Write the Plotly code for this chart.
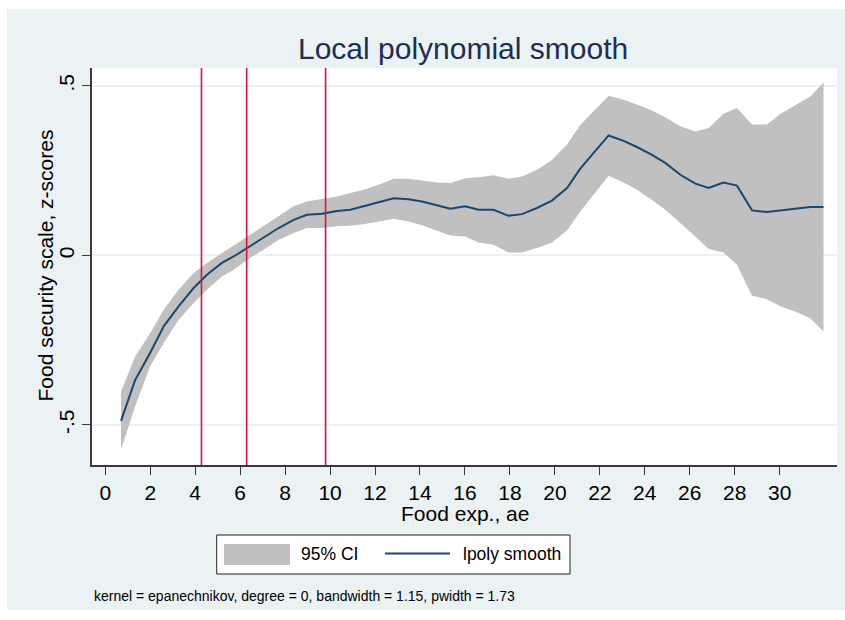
import plotly.graph_objects as go

# ---- data ----
food_exp = [0.70, 1.33, 2.00, 2.60, 3.26, 3.93, 4.52, 5.19, 5.71, 6.30,
            7.04, 7.71, 8.38, 8.97, 9.64, 10.31, 10.90, 11.49, 12.16, 12.83,
            13.49, 14.09, 14.75, 15.35, 16.01, 16.61, 17.27, 17.94, 18.54, 19.20,
            19.87, 20.54, 21.13, 22.39, 23.06, 23.65, 24.32, 24.91, 25.58, 26.25,
            26.84, 27.50, 28.10, 28.77, 29.43, 30.03, 30.69, 31.36, 31.95]

smooth = [-0.488, -0.367, -0.287, -0.209, -0.150, -0.096, -0.057, -0.022, -0.003, 0.022,
          0.051, 0.081, 0.105, 0.120, 0.123, 0.131, 0.135, 0.145, 0.156, 0.169,
          0.166, 0.159, 0.148, 0.138, 0.145, 0.135, 0.135, 0.117, 0.122, 0.140,
          0.162, 0.199, 0.256, 0.354, 0.338, 0.320, 0.297, 0.273, 0.238, 0.212,
          0.199, 0.215, 0.206, 0.133, 0.128, 0.133, 0.138, 0.143, 0.143]

ci_upper = [-0.401, -0.298, -0.229, -0.160, -0.101, -0.052, -0.022, 0.007, 0.030, 0.056,
            0.086, 0.115, 0.145, 0.159, 0.166, 0.174, 0.184, 0.194, 0.209, 0.226,
            0.226, 0.221, 0.215, 0.214, 0.228, 0.231, 0.237, 0.226, 0.233, 0.253,
            0.282, 0.327, 0.385, 0.471, 0.459, 0.445, 0.428, 0.408, 0.381, 0.366,
            0.376, 0.418, 0.435, 0.386, 0.386, 0.417, 0.442, 0.469, 0.510]

ci_lower = [-0.573, -0.445, -0.327, -0.258, -0.190, -0.140, -0.101, -0.062, -0.042, -0.013,
            0.017, 0.046, 0.066, 0.081, 0.081, 0.086, 0.088, 0.092, 0.100, 0.108,
            0.100, 0.089, 0.073, 0.059, 0.056, 0.038, 0.032, 0.009, 0.009, 0.022,
            0.038, 0.074, 0.130, 0.235, 0.215, 0.194, 0.164, 0.135, 0.096, 0.056,
            0.019, 0.009, -0.027, -0.119, -0.129, -0.150, -0.165, -0.185, -0.224]

xlines = [4.28, 6.29, 9.80]

x_tickvals = list(range(0, 31, 2))
y_tickvals = [-0.5, 0, 0.5]
y_ticktext = ["-.5", "0", ".5"]

title_text = "Local polynomial smooth"
x_title = "Food exp., ae"
y_title = "Food security scale, z-scores"
legend_labels = ["95% CI", "lpoly smooth"]
note_text = "kernel = epanechnikov, degree = 0, bandwidth = 1.15, pwidth = 1.73"

# ---- styles ----
FONT = "Liberation Sans, Arial, sans-serif"
BG = "#EAF2F3"
CI_COLOR = "#C0C0C0"
LINE_COLOR = "#1A476F"
RED = "#D4143F"
AXIS = "#3a3a3a"

fig = go.Figure()

fig.add_trace(go.Scatter(
    x=food_exp + food_exp[::-1],
    y=ci_upper + ci_lower[::-1],
    fill="toself", fillcolor=CI_COLOR, line=dict(width=0, color=CI_COLOR),
    mode="lines", hoverinfo="skip", showlegend=False, name=legend_labels[0]))

fig.add_trace(go.Scatter(
    x=food_exp, y=smooth, mode="lines",
    line=dict(color=LINE_COLOR, width=2), showlegend=False, name=legend_labels[1]))

shapes = []
for xv in xlines:
    shapes.append(dict(type="line", xref="x", yref="y domain", x0=xv, x1=xv, y0=0, y1=1,
                       line=dict(color=RED, width=1.6), layer="above"))

# white outer strips (graph region border)
W, H = 845, 620
L, R, T, B = 92, 8, 68, 155
pw, ph = W - L - R, H - T - B

def px_x(p):
    return (p - L) / pw

def px_y(p):
    return (H - B - p) / ph

shapes += [
    dict(type="rect", xref="paper", yref="paper", x0=px_x(-2), x1=px_x(7), y0=px_y(H + 2), y1=px_y(-2),
         fillcolor="white", line=dict(width=0), layer="below"),
    dict(type="rect", xref="paper", yref="paper", x0=px_x(-2), x1=px_x(W + 2), y0=px_y(9), y1=px_y(-2),
         fillcolor="white", line=dict(width=0), layer="below"),
    dict(type="rect", xref="paper", yref="paper", x0=px_x(-2), x1=px_x(W + 2), y0=px_y(H + 2), y1=px_y(610),
         fillcolor="white", line=dict(width=0), layer="below"),
]

# manual legend
shapes += [
    dict(type="rect", xref="paper", yref="paper", x0=px_x(216.7), x1=px_x(570), y0=px_y(574), y1=px_y(535),
         fillcolor="white", line=dict(color="#222", width=1)),
    dict(type="rect", xref="paper", yref="paper", x0=px_x(224), x1=px_x(290), y0=px_y(565), y1=px_y(544),
         fillcolor=CI_COLOR, line=dict(width=0)),
    dict(type="line", xref="paper", yref="paper", x0=px_x(385), x1=px_x(450), y0=px_y(553.5), y1=px_y(553.5),
         line=dict(color=LINE_COLOR, width=2)),
]

annotations = [
    dict(text=title_text, xref="paper", yref="paper", x=px_x(462.5), y=px_y(48.8),
         xanchor="center", yanchor="middle", showarrow=False,
         font=dict(family=FONT, size=30, color="#1E2D53")),
    dict(text=x_title, xref="paper", yref="paper", x=px_x(464.5), y=px_y(513),
         xanchor="center", yanchor="middle", showarrow=False,
         font=dict(family=FONT, size=21, color="black")),
    dict(text=y_title, xref="paper", yref="paper", x=px_x(45), y=px_y(265.5),
         xanchor="center", yanchor="middle", showarrow=False, textangle=-90,
         font=dict(family=FONT, size=21, color="black")),
    dict(text=legend_labels[0], xref="paper", yref="paper", x=px_x(299), y=px_y(554),
         xanchor="left", yanchor="middle", showarrow=False,
         font=dict(family=FONT, size=17.5, color="black")),
    dict(text=legend_labels[1], xref="paper", yref="paper", x=px_x(461), y=px_y(554),
         xanchor="left", yanchor="middle", showarrow=False,
         font=dict(family=FONT, size=17.5, color="black")),
    dict(text=note_text, xref="paper", yref="paper", x=px_x(92), y=px_y(596),
         xanchor="left", yanchor="middle", showarrow=False,
         font=dict(family=FONT, size=14, color="black")),
]

fig.update_layout(
    width=W, height=H,
    margin=dict(l=L, r=R, t=T, b=B, pad=0),
    paper_bgcolor=BG, plot_bgcolor="white",
    font=dict(family=FONT, size=21, color="black"),
    showlegend=False,
    shapes=shapes, annotations=annotations,
    xaxis=dict(range=[-0.59, 32.55], tickvals=x_tickvals, ticks="outside", ticklen=8,
               tickwidth=1.2, tickcolor=AXIS, showgrid=False, zeroline=False,
               showline=True, linecolor=AXIS, linewidth=1.5,
               tickfont=dict(family=FONT, size=21, color="black")),
    yaxis=dict(range=[-0.618, 0.553], tickvals=y_tickvals, ticktext=y_ticktext,
               ticks="outside", ticklen=8, tickwidth=1.2, tickcolor=AXIS,
               showgrid=True, gridcolor=BG, gridwidth=1.5, zeroline=False,
               showline=True, linecolor=AXIS, linewidth=1.5, tickangle=-90,
               tickfont=dict(family=FONT, size=21, color="black")),
)

fig.write_html("out.html",
               config={"displayModeBar": False},
               post_script="document.body.style.margin='0';document.body.style.padding='0';")
